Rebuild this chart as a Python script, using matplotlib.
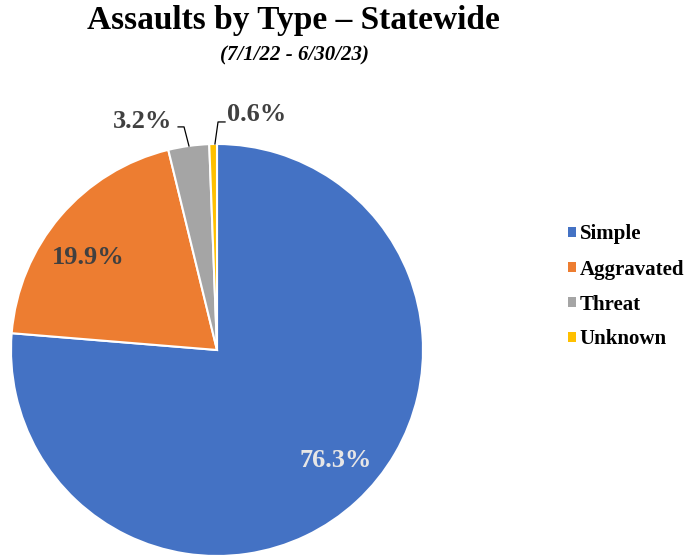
import matplotlib
matplotlib.use("Agg")
import matplotlib.pyplot as plt
import numpy as np

# data
categories = ['Simple', 'Aggravated', 'Threat', 'Unknown']
shares = [76.3, 19.9, 3.2, 0.6]
colours = ['#4472C4', '#ED7D31', '#A5A5A5', '#FFC000']

plt.rcParams['font.family'] = ['Liberation Serif', 'DejaVu Serif']

fig = plt.figure(figsize=(6.87, 5.56), dpi=100)
fig.patch.set_facecolor('white')

# pie axes: centre (217, 350) px, radius 206 px
W, H = 687., 556.
ax = fig.add_axes([11/W, 0/H, 412/W, 412/H])
wedges, _ = ax.pie(shares, colors=colours, startangle=90, counterclock=False,
                   radius=1, wedgeprops=dict(edgecolor='white', linewidth=1.5))
ax.set_xlim(-1, 1)
ax.set_ylim(-1, 1)
ax.set_aspect('equal')
ax.axis('off')

lab_col = '#404040'
fs = 19
ax.text(0.578, -0.534, '{:.1f}%'.format(shares[0]), ha='center', va='center',
        fontsize=fs, fontweight='bold', color='#E7E6E6')
ax.text(-0.626, 0.447, '{:.1f}%'.format(shares[1]), ha='center', va='center',
        fontsize=fs, fontweight='bold', color=lab_col)
ax.text(-0.359, 1.107, '{:.1f}%'.format(shares[2]), ha='center', va='center',
        fontsize=fs, fontweight='bold', color=lab_col, clip_on=False)
ax.text(0.19, 1.141, '{:.1f}%'.format(shares[3]), ha='center', va='center',
        fontsize=fs, fontweight='bold', color=lab_col, clip_on=False)

# leader lines
ax.plot([-0.189, -0.160, -0.136], [1.083, 1.083, 0.990], color='black', lw=0.9, clip_on=False)
ax.plot([-0.010, 0.005, 0.039], [1.0, 1.107, 1.107], color='black', lw=0.9, clip_on=False)

# titles
fig.text(293/W, 1 - 21/H, 'Assaults by Type \u2013 Statewide', ha='center', va='center',
         fontsize=24, fontweight='bold')
fig.text(294/W, 1 - 55/H, '(7/1/22 - 6/30/23)', ha='center', va='center',
         fontsize=15, fontweight='bold', style='italic')

leg = fig.legend(wedges, categories, loc='center left', bbox_to_anchor=(568/W, 1 - 287/H),
                 frameon=False, prop=dict(size=15, weight='bold'),
                 borderaxespad=0, borderpad=0,
                 handlelength=0.36, handleheight=0.36, handletextpad=0.2, labelspacing=0.72)
for h in leg.legend_handles:
    h.set_edgecolor('none')

fig.savefig('out.png', dpi=100, facecolor='white')
